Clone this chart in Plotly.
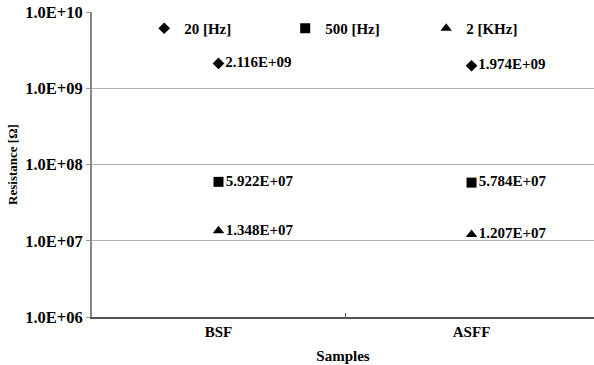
import plotly.graph_objects as go

samples = ["BSF", "ASFF"]
series_names = ["20 [Hz]", "500 [Hz]", "2 [KHz]"]
hz20 = [2.116e9, 1.974e9]
hz500 = [5.922e7, 5.784e7]
khz2 = [1.348e7, 1.207e7]
symbols = ["diamond", "square", "triangle-up"]
sizes = [9, 10, 10]
ytick_vals = [1e6, 1e7, 1e8, 1e9, 1e10]
ytick_text = ["1.0E+06", "1.0E+07", "1.0E+08", "1.0E+09", "1.0E+10"]

FONT = "Liberation Serif"
FS = 15

fig = go.Figure()
for name, vals, sym, sz in zip(series_names, [hz20, hz500, khz2], symbols, sizes):
    fig.add_trace(go.Scatter(
        x=samples, y=vals, name=name, mode="markers+text",
        marker=dict(symbol=sym, size=sz, color="black"),
        text=[f"{v:.3E}" for v in vals],
        textposition="middle right",
        textfont=dict(family=FONT, size=FS, color="black", weight="bold"),
        cliponaxis=False,
    ))

fig.update_layout(
    width=594, height=365,
    margin=dict(l=92, r=0, t=12, b=48),
    plot_bgcolor="white", paper_bgcolor="white",
    font=dict(family=FONT, size=FS, color="black", weight="bold"),
    legend=dict(orientation="h", x=0.104, y=1.0, xanchor="left", yanchor="top",
                entrywidth=96, itemwidth=30, bgcolor="rgba(0,0,0,0)",
                font=dict(family=FONT, size=FS, color="black", weight="bold"),
                tracegroupgap=0),
    showlegend=True,
)
fig.update_xaxes(
    type="category", range=[-0.5, 1.484],
    tickson="boundaries", ticks="inside", ticklen=4, tickcolor="#555",
    showline=True, linecolor="#555", linewidth=2, showgrid=False,
    title=dict(text="Samples", standoff=11, font=dict(family=FONT, size=FS, weight="bold")),
    tickfont=dict(family=FONT, size=FS, weight="bold"),
)
fig.update_yaxes(
    type="log", range=[6, 10],
    tickvals=ytick_vals, ticktext=ytick_text,
    ticks="outside", ticklen=4, tickcolor="#999",
    showline=True, linecolor="#888", linewidth=2,
    showgrid=True, gridcolor="#b0b0b0", gridwidth=1,
    title=dict(text="Resistance [Ω]", standoff=5, font=dict(family=FONT, size=13, weight="bold")),
    tickfont=dict(family=FONT, size=16.5, weight="bold"),
)

fig.write_html("out.html")
